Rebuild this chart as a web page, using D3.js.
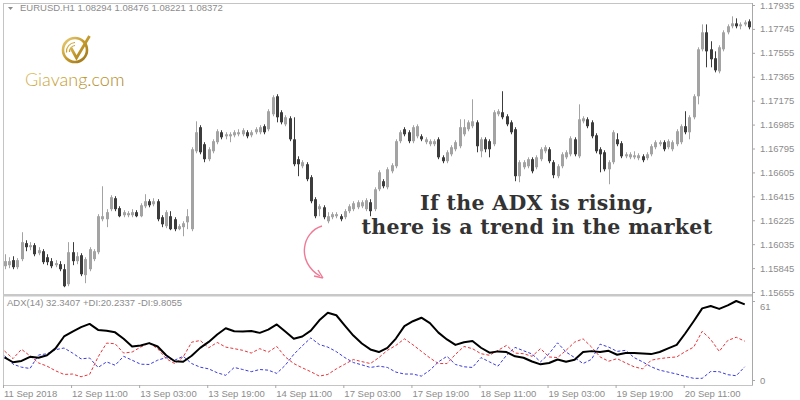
<!DOCTYPE html>
<html>
<head>
<meta charset="utf-8">
<script src="https://cdn.jsdelivr.net/npm/d3@7"></script>
<style>
body{margin:0;background:#fff;}
text{font-family:"Liberation Sans",Arial,sans-serif;}
</style>
</head>
<body>
<div id="chart"></div>
<script>
// EURUSD H1 candles, one per bar
var opens=[1.15860,1.15868,1.15908,1.15852,1.15916,1.16043,1.16011,1.16027,1.15963,1.15979,
 1.15931,1.15900,1.15868,1.15876,1.15836,1.15717,1.15971,1.15900,1.15947,1.15789,
 1.15836,1.15916,1.15971,1.16233,1.16233,1.16313,1.16400,1.16321,1.16265,1.16265,
 1.16265,1.16289,1.16257,1.16336,1.16376,1.16352,1.16376,1.16249,1.16178,1.16257,
 1.16233,1.16154,1.16170,1.16209,1.16154,1.16773,1.16964,1.16829,1.16710,1.16773,
 1.16845,1.16924,1.16892,1.16892,1.16900,1.16908,1.16908,1.16924,1.16900,1.16924,
 1.16924,1.16972,1.16948,1.17067,1.17210,1.17083,1.16987,1.17035,1.16868,1.16710,
 1.16654,1.16670,1.16567,1.16392,1.16313,1.16328,1.16217,1.16249,1.16257,1.16257,
 1.16249,1.16297,1.16313,1.16328,1.16336,1.16313,1.16368,1.16313,1.16471,1.16535,
 1.16487,1.16614,1.16654,1.16853,1.16948,1.16924,1.16853,1.16892,1.16892,1.16845,
 1.16829,1.16829,1.16868,1.16725,1.16694,1.16749,1.16789,1.16813,1.16908,1.16948,
 1.16972,1.17003,1.16773,1.16868,1.16853,1.16829,1.17067,1.17083,1.17051,1.17003,
 1.16948,1.16575,1.16646,1.16654,1.16710,1.16646,1.16710,1.16773,1.16789,1.16686,
 1.16575,1.16654,1.16725,1.16749,1.16868,1.16733,1.17011,1.17027,1.17003,1.16900,
 1.16789,1.16765,1.16630,1.16686,1.16868,1.16837,1.16733,1.16725,1.16725,1.16718,
 1.16733,1.16718,1.16749,1.16805,1.16829,1.16845,1.16805,1.16789,1.16829,1.16845,
 1.16972,1.16924,1.17043,1.17210,1.17583,1.17718,1.17583,1.17512,1.17408,1.17583,
 1.17718,1.17766,1.17789,1.17766,1.17781,1.17805];
var highs=[1.15955,1.15931,1.15939,1.15924,1.16130,1.16066,1.16051,1.16043,1.16011,1.15995,
 1.15955,1.15924,1.15908,1.15900,1.15876,1.16051,1.16051,1.15971,1.15963,1.15931,
 1.16011,1.15995,1.16273,1.16495,1.16313,1.16424,1.16416,1.16336,1.16305,1.16297,
 1.16313,1.16305,1.16360,1.16432,1.16392,1.16400,1.16392,1.16265,1.16305,1.16297,
 1.16249,1.16193,1.16217,1.16313,1.16805,1.17011,1.16980,1.16845,1.16805,1.16868,
 1.16948,1.16940,1.16924,1.16924,1.16940,1.16948,1.16956,1.16940,1.16940,1.16964,
 1.16980,1.16987,1.17107,1.17218,1.17226,1.17099,1.17059,1.17051,1.17043,1.16733,
 1.16702,1.16686,1.16583,1.16408,1.16352,1.16344,1.16289,1.16289,1.16289,1.16273,
 1.16313,1.16352,1.16376,1.16384,1.16384,1.16400,1.16392,1.16487,1.16622,1.16551,
 1.16646,1.16678,1.16868,1.16940,1.16964,1.16940,1.16980,1.16987,1.16908,1.16884,
 1.16868,1.16868,1.16884,1.16741,1.16781,1.16821,1.16860,1.17027,1.17027,1.17019,
 1.17186,1.17019,1.16884,1.16884,1.16868,1.17099,1.17107,1.17250,1.17067,1.17019,
 1.16964,1.16702,1.16702,1.16725,1.16725,1.16741,1.16805,1.16821,1.16805,1.16702,
 1.16670,1.16765,1.16781,1.16892,1.16884,1.17146,1.17051,1.17043,1.17019,1.16916,
 1.16805,1.16781,1.16702,1.16940,1.16916,1.16853,1.16765,1.16765,1.16773,1.16757,
 1.16749,1.16765,1.16829,1.16860,1.16860,1.16860,1.16868,1.16860,1.16948,1.16987,
 1.17091,1.17059,1.17226,1.17599,1.17781,1.17781,1.17647,1.17567,1.17615,1.17734,
 1.17781,1.17845,1.17829,1.17797,1.17813,1.17821];
var lows=[1.15836,1.15844,1.15836,1.15836,1.15900,1.15979,1.15987,1.15939,1.15947,1.15876,
 1.15868,1.15844,1.15852,1.15820,1.15693,1.15701,1.15868,1.15876,1.15781,1.15725,
 1.15820,1.15900,1.15955,1.16217,1.16170,1.16297,1.16297,1.16249,1.16249,1.16249,
 1.16249,1.16249,1.16249,1.16321,1.16328,1.16336,1.16217,1.16170,1.16162,1.16146,
 1.16138,1.16146,1.16098,1.16154,1.16138,1.16757,1.16749,1.16686,1.16694,1.16757,
 1.16829,1.16868,1.16868,1.16845,1.16884,1.16892,1.16892,1.16876,1.16884,1.16908,
 1.16908,1.16908,1.16932,1.17051,1.17003,1.16987,1.16972,1.16853,1.16654,1.16575,
 1.16638,1.16535,1.16360,1.16241,1.16257,1.16233,1.16201,1.16233,1.16241,1.16217,
 1.16233,1.16281,1.16297,1.16313,1.16321,1.16297,1.16257,1.16297,1.16456,1.16479,
 1.16471,1.16598,1.16638,1.16837,1.16892,1.16837,1.16837,1.16876,1.16853,1.16829,
 1.16813,1.16813,1.16710,1.16678,1.16678,1.16733,1.16773,1.16797,1.16892,1.16932,
 1.16956,1.16765,1.16725,1.16765,1.16725,1.16813,1.17051,1.17027,1.16972,1.16908,
 1.16535,1.16527,1.16630,1.16638,1.16598,1.16630,1.16694,1.16757,1.16678,1.16559,
 1.16559,1.16638,1.16710,1.16733,1.16733,1.16718,1.16995,1.16956,1.16876,1.16757,
 1.16606,1.16614,1.16511,1.16670,1.16813,1.16718,1.16718,1.16710,1.16710,1.16702,
 1.16686,1.16702,1.16733,1.16789,1.16813,1.16773,1.16789,1.16773,1.16813,1.16829,
 1.16908,1.16868,1.17027,1.17146,1.17567,1.17440,1.17440,1.17400,1.17392,1.17567,
 1.17702,1.17750,1.17750,1.17742,1.17766,1.17742];
var closes=[1.15900,1.15900,1.15852,1.15908,1.16051,1.16011,1.16027,1.15955,1.15987,1.15892,
 1.15892,1.15860,1.15884,1.15836,1.15701,1.15971,1.15900,1.15939,1.15796,1.15916,
 1.15995,1.15979,1.16257,1.16257,1.16289,1.16408,1.16313,1.16257,1.16289,1.16281,
 1.16289,1.16257,1.16344,1.16376,1.16344,1.16376,1.16233,1.16193,1.16289,1.16154,
 1.16154,1.16178,1.16201,1.16257,1.16789,1.16924,1.16765,1.16710,1.16789,1.16853,
 1.16932,1.16884,1.16908,1.16908,1.16924,1.16924,1.16940,1.16892,1.16924,1.16948,
 1.16964,1.16924,1.17091,1.17202,1.17043,1.17003,1.17043,1.16868,1.16670,1.16670,
 1.16686,1.16551,1.16376,1.16257,1.16336,1.16249,1.16257,1.16273,1.16273,1.16233,
 1.16297,1.16336,1.16360,1.16368,1.16368,1.16384,1.16297,1.16471,1.16606,1.16495,
 1.16630,1.16662,1.16853,1.16924,1.16908,1.16853,1.16964,1.16972,1.16868,1.16868,
 1.16853,1.16853,1.16725,1.16694,1.16765,1.16805,1.16845,1.16964,1.16964,1.17003,
 1.17011,1.16813,1.16868,1.16789,1.16789,1.17083,1.17091,1.17043,1.16987,1.16924,
 1.16575,1.16686,1.16686,1.16710,1.16614,1.16725,1.16789,1.16805,1.16694,1.16583,
 1.16654,1.16749,1.16765,1.16876,1.16749,1.17027,1.17035,1.16972,1.16892,1.16773,
 1.16749,1.16630,1.16686,1.16924,1.16829,1.16733,1.16749,1.16749,1.16741,1.16741,
 1.16702,1.16749,1.16813,1.16845,1.16845,1.16789,1.16853,1.16845,1.16932,1.16972,
 1.16924,1.17043,1.17210,1.17583,1.17718,1.17567,1.17504,1.17416,1.17599,1.17718,
 1.17766,1.17789,1.17766,1.17781,1.17797,1.17758];

// ADX(14) panel, read every 2nd bar
var adxStep=2;
var adx=[17.5,13.7,14.7,17.9,17.2,19.1,24.4,33.6,37.4,40.8,
 43.3,38.7,38.1,36.8,31.8,25.9,26.7,28.5,25.9,19.1,
 14.5,14.1,18.7,24.8,29.4,35.1,40.0,37.6,37.4,37.8,
 36.4,38.9,42.9,37.4,31.8,33.6,38.1,46.1,51.9,50.0,
 42.0,34.3,28.2,23.6,21.6,24.8,32.0,41.6,45.4,48.1,
 43.9,36.6,31.3,27.1,29.2,30.1,24.9,21.1,22.1,21.6,
 18.3,17.2,14.3,12.1,13.1,15.8,14.1,15.6,21.6,22.3,
 21.6,22.5,19.5,20.8,20.8,20.4,20.0,21.6,24.4,27.1,
 35.9,45.4,55.3,57.1,54.9,57.6,61.0,58.4];
var plusDI=[22.4,16.5,23.7,18.6,13.2,10.7,7.1,4.3,4.6,2.5,
 4.3,17.8,28.5,28.0,20.8,21.6,25.4,28.5,24.2,16.5,
 12.7,17.8,29.2,30.5,24.9,29.0,25.4,24.2,22.9,20.8,
 24.2,21.6,25.9,17.8,12.7,9.4,6.4,3.0,4.3,8.6,
 12.2,15.8,14.2,12.7,17.3,22.9,26.7,31.8,27.2,22.1,
 17.0,12.7,12.7,19.8,25.9,24.2,20.3,19.1,22.9,26.7,
 20.8,20.3,18.3,24.2,17.8,17.3,22.9,29.2,31.8,25.4,
 17.8,14.5,16.5,13.2,10.2,8.6,15.3,16.5,17.3,17.8,
 21.9,25.4,37.6,31.3,22.1,30.5,33.0,30.0];
var minusDI=[18.8,12.2,9.9,8.9,19.3,20.3,23.4,24.7,20.8,16.3,
 17.0,9.7,14.0,11.4,18.3,15.3,12.2,12.0,15.3,17.3,
 15.3,18.3,12.7,9.9,8.6,5.6,3.6,9.7,8.1,6.4,
 8.1,7.6,5.1,11.4,19.8,26.4,32.5,27.4,25.4,21.9,
 17.3,13.5,11.7,9.7,10.7,9.7,6.1,4.6,4.6,3.0,
 7.6,14.0,18.3,12.0,10.2,9.7,17.3,14.0,10.7,19.1,
 25.2,22.6,20.1,14.0,20.3,28.7,21.6,17.3,12.7,16.0,
 27.7,25.4,22.1,22.9,17.3,14.0,10.2,7.6,6.1,4.6,
 2.8,1.3,1.3,6.6,6.4,4.1,3.3,10.2];

var priceTicks=[1.15655,1.15845,1.16035,1.16225,1.16415,1.16605,1.16795,1.16985,1.17175,1.17365,1.17555,1.17745,1.17935];
var adxTicks=[0,61];
var timeBars=[0,16,32,48,64,80,96,112,128,144,160];
var timeLabels=["11 Sep 2018","12 Sep 11:00","13 Sep 03:00","13 Sep 19:00","14 Sep 11:00","17 Sep 03:00",
 "17 Sep 19:00","18 Sep 11:00","19 Sep 03:00","19 Sep 19:00","20 Sep 11:00"];

var width=800,height=400;
var left=3,right=752,top1=3,bot1=294,top2=296,bot2=385;
var axisCol="#8c8c8c",borderCol="#c4c4c4";

var svg=d3.select("#chart").append("svg")
  .attr("width",width).attr("height",height);

var x=d3.scaleLinear().domain([0,opens.length-1]).range([4.5,749]);
var y=d3.scaleLinear().domain([1.15655,1.17935]).range([292,5]);
var ya=d3.scaleLinear().domain([0,61]).range([380,301]);

// panel frames
svg.append("rect").attr("x",left+0.5).attr("y",top1+0.5)
  .attr("width",right-left).attr("height",bot2-top1)
  .attr("fill","none").attr("stroke",borderCol);
svg.append("rect").attr("x",left).attr("y",bot1).attr("width",right-left+1).attr("height",2.5)
  .attr("fill","#c8c8c8");

// candles
var bars=svg.append("g");
var idx=d3.range(opens.length);
bars.selectAll("line").data(idx).enter().append("line")
  .attr("x1",function(i){return Math.round(x(i))+0.5;})
  .attr("x2",function(i){return Math.round(x(i))+0.5;})
  .attr("y1",function(i){return y(highs[i]);})
  .attr("y2",function(i){return y(lows[i]);})
  .attr("stroke",function(i){return closes[i]>=opens[i]?"#a3a3a3":"#3c3c3c";})
  .attr("stroke-width",1);
bars.selectAll("rect").data(idx).enter().append("rect")
  .attr("x",function(i){return Math.round(x(i))-1;})
  .attr("y",function(i){return y(Math.max(opens[i],closes[i]));})
  .attr("width",3)
  .attr("height",function(i){return Math.max(1,Math.abs(y(opens[i])-y(closes[i])));})
  .attr("fill",function(i){return closes[i]>=opens[i]?"#a3a3a3":"#3c3c3c";});

// price axis
var pAxis=svg.append("g").attr("transform","translate("+right+",0)")
  .call(d3.axisRight(y).tickValues(priceTicks).tickSize(3).tickPadding(5).tickFormat(d3.format(".5f")));
pAxis.select(".domain").attr("stroke","#a8a8a8").attr("d","M0.5,"+top1+"V"+bot2);
pAxis.selectAll(".tick line").attr("stroke","#a8a8a8");
pAxis.selectAll("text").attr("fill",axisCol).style("font-size","9.5px").attr("font-family","Liberation Sans");

// ADX axis
var aAxis=svg.append("g").attr("transform","translate("+right+",0)")
  .call(d3.axisRight(ya).tickValues(adxTicks).tickSize(3).tickPadding(5));
aAxis.select(".domain").remove();
aAxis.selectAll(".tick line").attr("stroke","#a8a8a8");
aAxis.selectAll("text").attr("fill",axisCol).style("font-size","9.5px").attr("font-family","Liberation Sans")
  .attr("dy",function(d){return d===61?"0.85em":"0.32em";});

// time axis
var tAxis=svg.append("g").attr("transform","translate(0,"+bot2+")")
  .call(d3.axisBottom(x).tickValues(timeBars).tickSize(3).tickPadding(2)
    .tickFormat(function(d,i){return timeLabels[i];}));
tAxis.select(".domain").remove();
tAxis.selectAll(".tick line").attr("stroke","#a8a8a8").attr("transform","translate(-1.5,0)");
tAxis.selectAll("text").attr("fill",axisCol).attr("text-anchor","start").attr("dx","-1")
  .style("font-size","9.5px").attr("font-family","Liberation Sans");

// ADX lines
var ax=function(d,i){return x(i*adxStep);};
var line=function(arr){return d3.line().x(ax).y(function(d){return ya(d);})(arr);};
svg.append("path").attr("d",line(plusDI)).attr("fill","none")
  .attr("stroke","#e8343a").attr("stroke-width",1).attr("stroke-dasharray","3,2");
svg.append("path").attr("d",line(minusDI)).attr("fill","none")
  .attr("stroke","#3a3ae0").attr("stroke-width",1).attr("stroke-dasharray","3,2");
svg.append("path").attr("d",line(adx)).attr("fill","none")
  .attr("stroke","#000").attr("stroke-width",2).attr("stroke-linejoin","round");

// panel captions
svg.append("path").attr("d","M8,7 L13,7 L10.5,10 Z").attr("fill","#8c8c8c");
svg.append("text").attr("x",20).attr("y",11).attr("fill",axisCol).style("font-size","9.5px")
  .text("EURUSD.H1  1.08294 1.08476 1.08221 1.08372");
svg.append("text").attr("x",7).attr("y",306).attr("fill",axisCol).style("font-size","9.5px")
  .text("ADX(14) 32.3407 +DI:20.2337 -DI:9.8055");

// logo
var defs=svg.append("defs");
var g1=defs.append("linearGradient").attr("id","gold").attr("x1","0").attr("y1","0").attr("x2","1").attr("y2","1");
g1.append("stop").attr("offset","0").attr("stop-color","#e9cf7a");
g1.append("stop").attr("offset","0.5").attr("stop-color","#c49a2c");
g1.append("stop").attr("offset","1").attr("stop-color","#9c7418");
var logo=svg.append("g");
logo.append("circle").attr("cx",75).attr("cy",50).attr("r",12)
  .attr("fill","none").attr("stroke","url(#gold)").attr("stroke-width",2.6);
logo.append("path").attr("d","M69.5,52 A6,6 0 0 1 75,45.5").attr("fill","none")
  .attr("stroke","url(#gold)").attr("stroke-width",1.2);
logo.append("path").attr("d","M66.5,52.5 A9,9 0 0 1 75,42.5").attr("fill","none")
  .attr("stroke","url(#gold)").attr("stroke-width",1.2);
logo.append("path").attr("d","M71,48 L76.5,58 L89.5,36").attr("fill","none")
  .attr("stroke","url(#gold)").attr("stroke-width",2.8).attr("stroke-linejoin","miter");
logo.append("text").attr("x",25).attr("y",86).attr("fill","url(#gold)")
  .style("font-family","Lato").style("font-weight","300").style("font-size","18px")
  .text("Giavang.com");

// annotation
var notes=["If the ADX is rising,","there is a trend in the market"];
svg.append("g").selectAll("text").data(notes).enter().append("text")
  .attr("x",537).attr("y",function(d,i){return 210+i*24;})
  .attr("text-anchor","middle").attr("fill","#333")
  .style("font-family","'DejaVu Serif',serif").style("font-weight","bold").style("font-size","20.5px")
  .style("letter-spacing","0.3px")
  .text(function(d){return d;});

svg.append("path").attr("d","M322,226 C302,232 296,262 320,276").attr("fill","none")
  .attr("stroke","#f07a96").attr("stroke-width",1.4);
svg.append("path").attr("d","M323,278 L314,276 M323,278 L318,270").attr("fill","none")
  .attr("stroke","#f07a96").attr("stroke-width",1.4);
</script>
</body>
</html>
